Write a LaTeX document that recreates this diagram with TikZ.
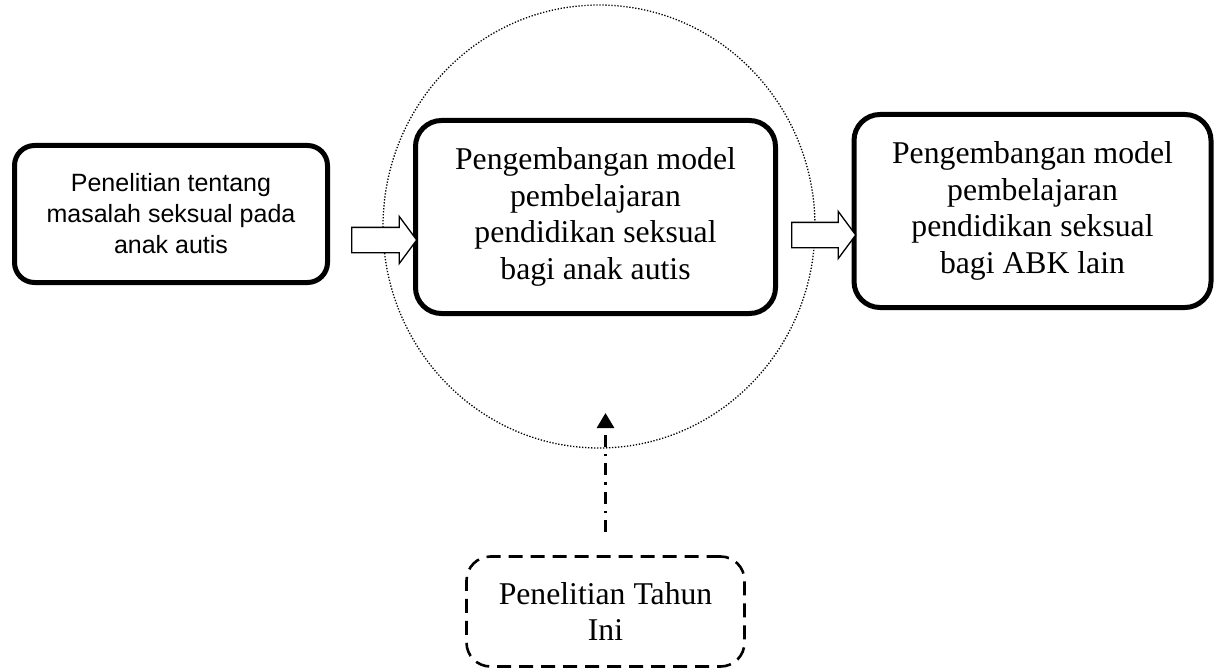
\documentclass[tikz,border=0pt]{standalone}
\usepackage{fontspec}
\setmainfont{Liberation Serif}
\newfontfamily\boxsans{Liberation Sans}
\usetikzlibrary{shapes.geometric,shapes.arrows,arrows.meta}
\begin{document}
\begin{tikzpicture}[x=1pt,y=-1pt,
  bigbox/.style={draw, line width=5pt, rounded corners=26pt, fill=white, align=center, inner sep=0pt,
    font=\fontsize{31.7}{36.5}\selectfont},
  sansbox/.style={draw, line width=5pt, rounded corners=20pt, fill=white, align=center, inner sep=0pt,
    font=\boxsans\fontsize{25}{31}\selectfont},
  dashbox/.style={draw, line width=2.6pt, dash pattern=on 14pt off 8pt, rounded corners=24pt, align=center, inner sep=0pt,
    font=\fontsize{31.7}{36.5}\selectfont},
  blockarrow/.style={single arrow, draw, fill=white, line width=1.3pt, inner xsep=0pt, inner ysep=12pt,
    single arrow head extend=11pt, single arrow tip angle=107, single arrow head indent=0pt},
  dottedellipse/.style={ellipse, draw, line width=1.3pt, dash pattern=on 1.3pt off 1.7pt, inner sep=0pt},
  dashdotline/.style={line width=2.8pt, dash pattern=on 12pt off 7pt on 2.5pt off 7pt, -{Triangle[length=15pt,width=17pt]}}
]
\useasboundingbox (0,0) rectangle (1217,671);

\node[dottedellipse, minimum width=432pt, minimum height=443pt] (circ) at (599,226.5) {};

\node[sansbox, minimum width=313pt, minimum height=137pt] (b1) at (171,214)
  {Penelitian tentang\\masalah seksual pada\\anak autis};
\node[bigbox, minimum width=360pt, minimum height=193pt] (b2) at (595.5,217)
  {Pengembangan model\\pembelajaran\\pendidikan seksual\\bagi anak autis};
\node[bigbox, minimum width=357pt, minimum height=193pt] (b3) at (1032.5,211)
  {Pengembangan model\\pembelajaran\\pendidikan seksual\\bagi ABK lain};
\node[dashbox, minimum width=278pt, minimum height=110pt] (db) at (605.5,611.5)
  {Penelitian Tahun\\Ini};

\node[blockarrow, minimum height=65pt] (a1) at (379.5,240) {};
\node[blockarrow, minimum height=64pt] (a2) at (819,235) {};

\coordinate (tgt) at (605.5,413);
\draw[dashdotline] ([yshift=23pt]db.north) -- (tgt);
\end{tikzpicture}
\end{document}
